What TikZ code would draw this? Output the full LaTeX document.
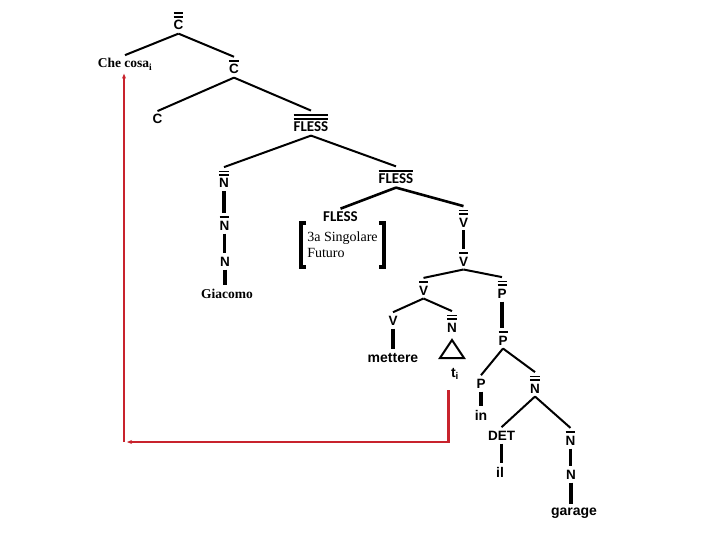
\documentclass[tikz,border=0pt]{standalone}
\usepackage{fontspec}
\setmainfont{Liberation Serif}
\setsansfont{Liberation Sans}
\newfontfamily\carl{Carlito}
\usetikzlibrary{arrows.meta}
\newcommand{\oneb}[1]{\vbox{\hrule height 1.7pt\kern 2.6pt\hbox{#1}}}
\newcommand{\twob}[1]{\vbox{\hrule height 1.7pt\kern 2.1pt\hrule height 1.7pt\kern 2.6pt\hbox{#1}}}
\definecolor{redl}{RGB}{200,35,45}
\begin{document}
\begin{tikzpicture}[x=1pt,y=-1pt,
  lab/.style={font=\sffamily\bfseries\fontsize{13.5}{15}\selectfont, inner sep=3.5pt, outer sep=0pt, anchor=base},
  wrd/.style={font=\sffamily\bfseries\fontsize{14}{16}\selectfont, inner sep=3.5pt, outer sep=0pt, anchor=base},
  fl/.style={font=\carl\bfseries\fontsize{15}{17}\selectfont, inner sep=3.5pt, outer sep=0pt, anchor=base},
  srf/.style={font=\rmfamily\bfseries\fontsize{13.5}{15}\selectfont, inner sep=3.5pt, outer sep=0pt, anchor=base},
  br/.style={line width=2pt},
  brk/.style={line width=2.6pt},
  vr/.style={line width=3.6pt},
  bracket/.style={line width=3.8pt, line cap=butt, line join=miter},
  redline/.style={draw=redl, line width=2.2pt}
]
\path[use as bounding box] (0,0) rectangle (720,540);

% nodes
\node[lab] (cbb) at (178.5,30) {\twob{C}};
\node[srf] (cosa) at (125,68) {Che cosa\textsubscript{i}};
\node[lab] (cb) at (234,74) {\oneb{C}};
\node[lab] (c) at (157.5,124) {C};
\node[fl] (flbb) at (311,132) {\twob{FLESS}};
\node[lab] (nbb) at (224,188) {\twob{N}};
\node[lab] (nb1) at (224.5,230) {\oneb{N}};
\node[lab] (n1) at (225,266) {N};
\node[srf] (giac) at (227,298) {Giacomo};
\node[fl] (flb) at (396,184) {\oneb{FLESS}};
\node[fl] (fles) at (340.5,222) {FLESS};
\node[font=\rmfamily\fontsize{14}{16}\selectfont, align=left, inner xsep=6pt, inner ysep=0pt,
      minimum height=44pt] (feat) at (342.5,245) {3a Singolare\\Futuro};
\node[lab] (vbb) at (463.5,227) {\twob{V}};
\node[lab] (vb1) at (463.5,266) {\oneb{V}};
\node[lab] (vb2) at (423.5,295) {\oneb{V}};
\node[lab] (pbb) at (502,298) {\twob{P}};
\node[lab] (v) at (393,325) {V};
\node[lab] (nbb2) at (452,332) {\twob{N}};
\node[wrd] (mett) at (393,362) {mettere};
\node[wrd] (ti) at (455,377) {t\textsubscript{i}};
\node[lab] (pb) at (503,345) {\oneb{P}};
\node[lab] (p) at (481,388) {P};
\node[wrd] (in) at (481,420) {in};
\node[lab] (nbb3) at (535,393) {\twob{N}};
\node[lab] (det) at (501.5,440) {DET};
\node[wrd] (il) at (500,477) {il};
\node[lab] (nb3) at (570.5,445) {\oneb{N}};
\node[lab] (n3) at (571,479) {N};
\node[wrd] (garage) at (574,515) {garage};

% diagonal branches
\draw[br] (cbb.south) -- (cosa.north);
\draw[br] (cbb.south) -- (cb.north);
\draw[br] (cb.south) -- (c.north);
\draw[br] (cb.south) -- (flbb.north);
\draw[br] (flbb.south) -- (nbb.north);
\draw[br] (flbb.south) -- (flb.north);
\draw[brk] (flb.south) -- (fles.north);
\draw[brk] (flb.south) -- (vbb.north);
\draw[br] (vb1.south) -- (vb2.north);
\draw[br] (vb1.south) -- (pbb.north);
\draw[br] (vb2.south) -- (v.north);
\draw[br] (vb2.south) -- (nbb2.north);
\draw[br] (pb.south) -- (p.north);
\draw[br] (pb.south) -- (nbb3.north);
\draw[br] (nbb3.south) -- (det.north);
\draw[br] (nbb3.south) -- (nb3.north);

% vertical branches
\draw[vr] (nbb.south) -- (nbb.south |- nb1.north);
\draw[vr] (nb1.south) -- (nb1.south |- n1.north);
\draw[vr] (n1.south) -- (n1.south |- giac.north);
\draw[vr] (vbb.south) -- (vbb.south |- vb1.north);
\draw[vr] (v.south) -- (v.south |- mett.north);
\draw[vr] (pbb.south) -- (pbb.south |- pb.north);
\draw[vr] (p.south) -- (p.south |- in.north);
\draw[vr] (det.south) -- (det.south |- il.north);
\draw[vr] (nb3.south) -- (nb3.south |- n3.north);
\draw[vr] (n3.south) -- (n3.south |- garage.north);

% trace triangle
\draw[br, line join=miter] ([yshift=-4.5pt]nbb2.south) -- ++(-12,18) -- ++(24,0) -- cycle;

% feature brackets
\draw[bracket] ([xshift=5pt]feat.north west) -- (feat.north west) -- (feat.south west) -- ([xshift=5pt]feat.south west);
\draw[bracket] ([xshift=-5pt]feat.north east) -- (feat.north east) -- (feat.south east) -- ([xshift=-5pt]feat.south east);

% movement arrow
\coordinate (tr) at (448.5,390);
\coordinate (corner) at (124,442);
\draw[redline, -{Stealth[length=5pt,width=4pt]}] (tr) |- ([xshift=3pt]corner);
\draw[redline, -{Stealth[length=5pt,width=4pt]}] (corner) -- (corner |- cosa.south);
\end{tikzpicture}
\end{document}
